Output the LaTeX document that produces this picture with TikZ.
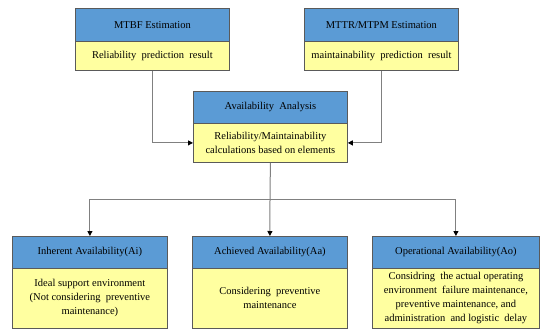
\documentclass[tikz,border=0pt]{standalone}
\usepackage{fontspec}
\setmainfont{Liberation Serif}
\usetikzlibrary{arrows.meta}
\definecolor{hdrblue}{RGB}{91,155,213}
\definecolor{bodyyellow}{RGB}{255,255,160}
\definecolor{edgegray}{RGB}{90,90,90}
\definecolor{linegray}{RGB}{128,128,128}
\begin{document}
\begin{tikzpicture}[x=1pt,y=-1pt,
  boxpart/.style={draw=edgegray, line width=0.8pt, anchor=north west, inner sep=1pt,
    font=\fontsize{10.5}{14}\selectfont, align=center},
  hdr/.style={boxpart, fill=hdrblue},
  bdy/.style={boxpart, fill=bodyyellow},
  conn/.style={draw=linegray, line width=1pt},
  arr/.style={conn, -{Triangle[length=5pt,width=5pt,fill=black,color=black]}}
]
\useasboundingbox (0,0) rectangle (540,329);
% top left
\node[hdr, minimum width=154pt, minimum height=33pt] (tlh) at (75,8) {MTBF Estimation};
\node[bdy, minimum width=154pt, minimum height=29pt] (tlb) at (75,41) {Reliability\ \ prediction\ \ result};
% top right
\node[hdr, minimum width=154pt, minimum height=33pt] (trh) at (304,8) {MTTR/MTPM Estimation};
\node[bdy, minimum width=154pt, minimum height=29pt] (trb) at (304,41) {maintainability\ \ prediction\ \ result};
% middle
\node[hdr, minimum width=154pt, minimum height=32pt] (mh) at (193,91) {Availability\ \ Analysis};
\node[bdy, minimum width=154pt, minimum height=39pt] (mb) at (193,123) {Reliability/Maintainability\\calculations based on elements};
% bottom
\node[hdr, minimum width=155pt, minimum height=32pt] (lh) at (12,236) {Inherent Availability(Ai)};
\node[bdy, minimum width=155pt, minimum height=60pt] (lb) at (12,268) {Ideal support environment\\(Not considering\ \ preventive\\maintenance)};
\node[hdr, minimum width=155pt, minimum height=32pt] (ch) at (192,236) {Achieved Availability(Aa)};
\node[bdy, minimum width=155pt, minimum height=60pt] (cb) at (192,268) {Considering\ \ preventive\\maintenance};
\node[hdr, minimum width=167pt, minimum height=32pt] (rh) at (372,236) {Operational Availability(Ao)};
\node[bdy, minimum width=167pt, minimum height=60pt] (rb) at (372,268) {Considring\ \ the actual operating\\environment\ \ failure maintenance,\\preventive maintenance, and\\administration\ \ and logistic\ \ delay};
% connectors
\draw[arr] (tlb.south) |- (mb.west);
\draw[arr] (trb.south) |- (mb.east);
\coordinate (split) at (270,199);
\draw[conn] (mb.south) -- (split);
\draw[arr] (split) -| (lh.north);
\draw[arr] (split) -- (ch.north);
\draw[arr] (split) -| (rh.north);
\end{tikzpicture}
\end{document}
